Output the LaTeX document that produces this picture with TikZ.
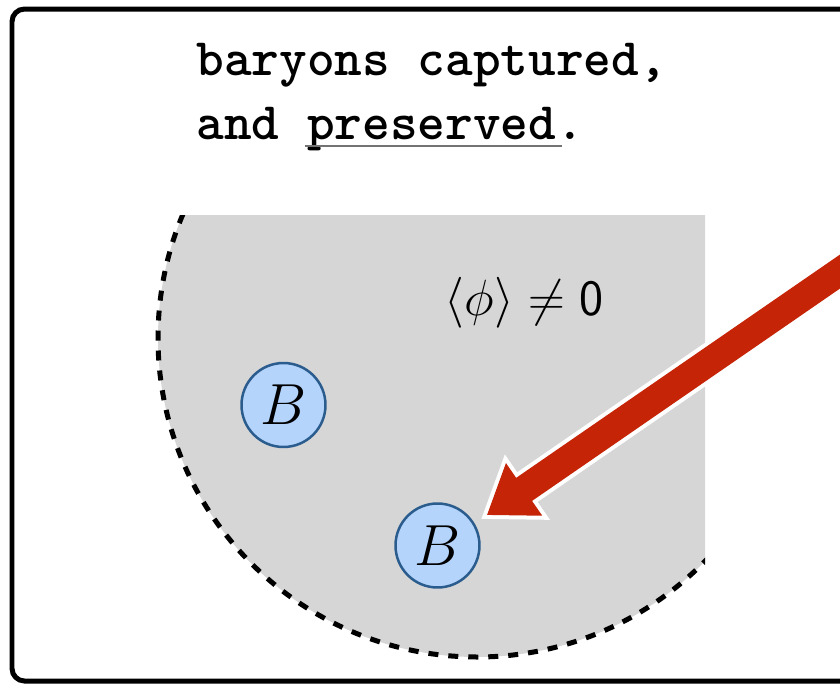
\RequirePackage{fix-cm}
\documentclass[tikz,border=0pt]{standalone}
\usepackage{amsmath, amssymb}
\usepackage{xcolor}
\usetikzlibrary{positioning, calc}

\definecolor{capred}{HTML}{C62406}
\definecolor{bfill}{HTML}{B4D4FB}
\definecolor{bline}{HTML}{2A5C8E}
\definecolor{vevgray}{HTML}{D6D6D6}

\begin{document}
\begin{tikzpicture}[
  x=0.02cm, y=-0.02cm,
  frm/.style={draw, line width=0.1cm, rounded corners=0.25cm},
  txt/.style={font=\ttfamily\bfseries\fontsize{30}{36}\selectfont,
              inner sep=0pt, anchor=base west},
  bary/.style={circle, draw=bline, fill=bfill, line width=0.05cm,
               minimum size=1.68cm, inner sep=0pt,
               font=\fontsize{33}{40}\selectfont},
  rim/.style={line width=0.1cm, dash pattern=on 0.2cm off 0.2cm},
  uline/.style={draw=black!55, line width=0.025cm},
  arr/.style={fill=capred, preaction={draw=white, line width=0.16cm,
              line join=miter}}
]
\useasboundingbox (0,0) rectangle (840,684);
\draw[frm] (12,9) rectangle (880,681);

% broken phase region
\begin{scope}
  \clip (0,215) rectangle (705,700);
  \fill[vevgray] (477,338) circle[radius=319];
  \draw[rim] (477,338) circle[radius=319];
\end{scope}

\node[txt] (l1) at (196,75) {baryons captured,};
\node[txt] (l2) at (196,139) {and preserved.};
\draw[uline] ($(l2.base west)+(109,7)$) -- ($(l2.base west)+(366,7)$);

\node[font=\fontsize{29}{35}\selectfont] (vev) at (524,303)
  {$\langle\phi\rangle \neq \mathsf{0}$};
\node[bary] (b1) at (283.5,405) {$B$};
\node[bary] (b2) at (437.5,545.5) {$B$};

% incoming arrow
\coordinate (tip) at ($(b2.45)+(19,0)$);
\coordinate (tail) at (893,235);
\coordinate (hb) at ($(tip)!0.9cm!(tail)$);
\path[arr] ($(tail)!0.28cm!-90:(tip)$) -- ($(hb)!0.28cm!90:(tail)$)
  -- ($(hb)!0.64cm!90:(tail)$) -- (tip) -- ($(hb)!0.64cm!-90:(tail)$)
  -- ($(hb)!0.28cm!-90:(tail)$) -- ($(tail)!0.28cm!90:(tip)$) -- cycle;
\end{tikzpicture}
\end{document}
